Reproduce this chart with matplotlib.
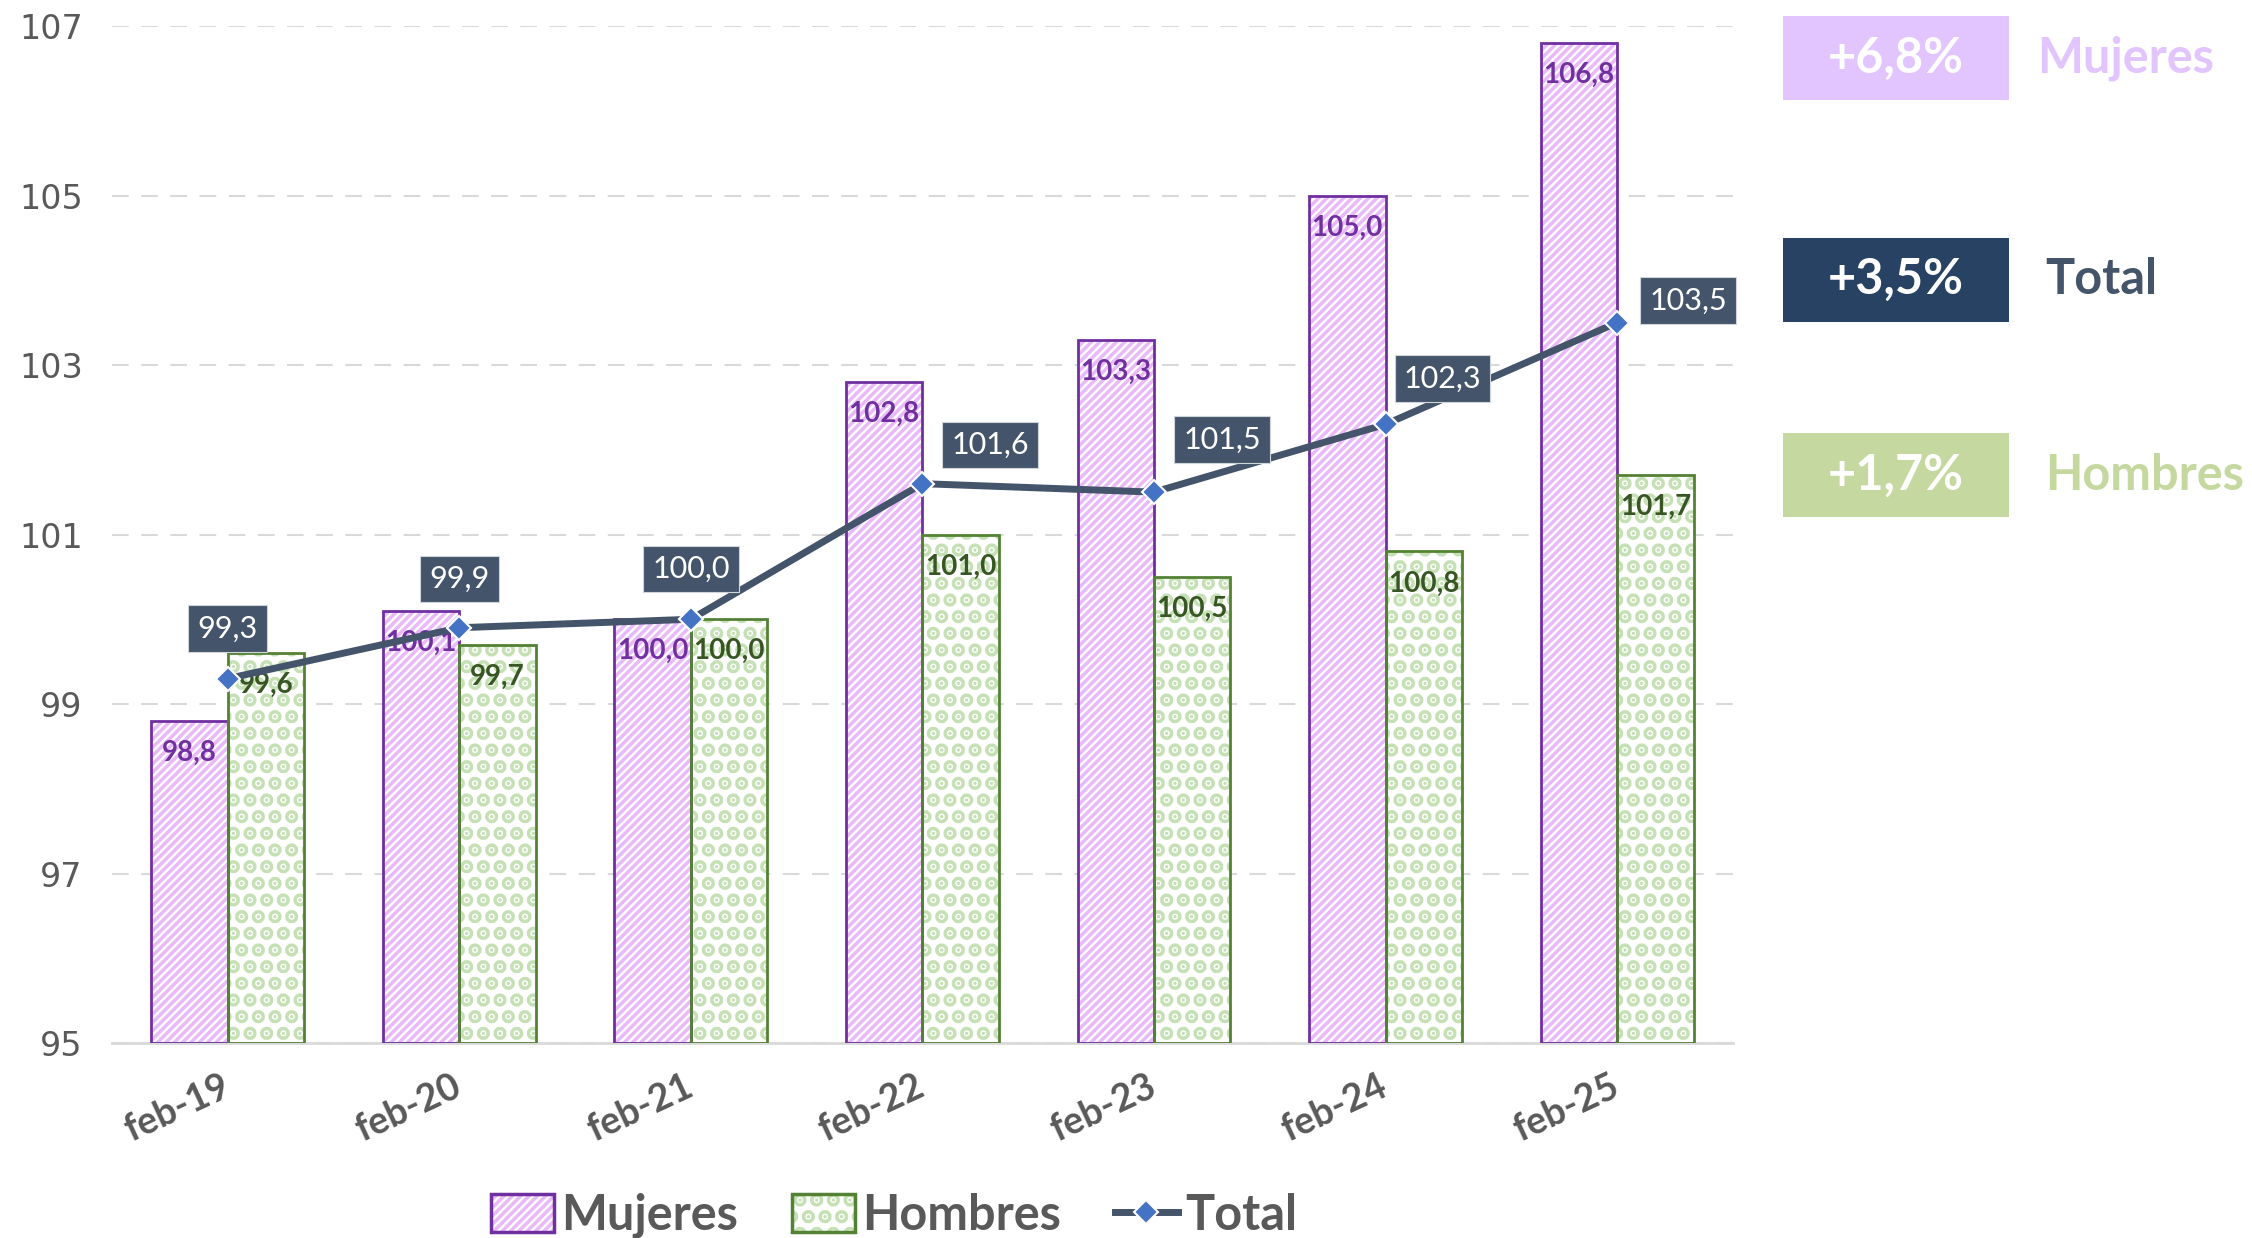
import numpy as np
import matplotlib
matplotlib.use('agg')
import matplotlib.pyplot as plt
from matplotlib.patches import Patch, Rectangle
from matplotlib.lines import Line2D
from matplotlib.legend_handler import HandlerTuple, HandlerPatch

# data
cats = ['feb-19', 'feb-20', 'feb-21', 'feb-22', 'feb-23', 'feb-24', 'feb-25']
mujeres = [98.8, 100.1, 100.0, 102.8, 103.3, 105.0, 106.8]
hombres = [99.6, 99.7, 100.0, 101.0, 100.5, 100.8, 101.7]
total = [99.3, 99.9, 100.0, 101.6, 101.5, 102.3, 103.5]
yticks = [95, 97, 99, 101, 103, 105, 107]

summary_vals = ['+6,8%', '+3,5%', '+1,7%']
summary_names = ['Mujeres', 'Total', 'Hombres']

# styles
PURPLE = '#7030A0'
LAVENDER = '#E9B9F9'
GREEN_EDGE = '#548235'
GREEN_FILL = '#C5E0B4'
GREEN_TXT = '#375623'
SLATE = '#44546A'
BLUE = '#4472C4'
GRAY = '#595959'
GRID = '#D9D9D9'
DOT_LW = 7
summary_box = ['#E2C4FF', '#284264', '#C4D89F']
summary_txt = ['#E2C4FF', SLATE, '#C4D89F']
name_x = [0.9045, 0.908, 0.908]
total_offsets = [(0, 36), (0, 35), (0, 36), (49, 28), (49, 38), (41, 33), (51, 16)]

plt.rcParams['font.family'] = ['Lato', 'DejaVu Sans']
plt.rcParams['hatch.linewidth'] = 2.5

def fmt(v):
    return f'{v:.1f}'.replace('.', ',')

def thick_hatch(patches, lw):
    for p in patches:
        if hasattr(p, 'set_hatch_linewidth'):
            p.set_hatch_linewidth(lw)

fig = plt.figure(figsize=(22.52, 12.38), dpi=100)
ax = fig.add_axes([0.0497, 0.1575, 0.7198, 0.8215])

x = np.arange(len(cats))
w = 0.33
base = 95

# Mujeres bars: hatch layer + outline
ax.bar(x - w/2, np.array(mujeres) - base, w, bottom=base, facecolor='white',
       edgecolor=LAVENDER, hatch='////', linewidth=0, zorder=2)
ax.bar(x - w/2, np.array(mujeres) - base, w, bottom=base, fill=False,
       edgecolor=PURPLE, linewidth=2, zorder=3)
# Hombres bars
hb = ax.bar(x + w/2, np.array(hombres) - base, w, bottom=base, facecolor='white',
            edgecolor=GREEN_FILL, hatch='.', linewidth=0, zorder=2)
thick_hatch(hb, DOT_LW)
ax.bar(x + w/2, np.array(hombres) - base, w, bottom=base, fill=False,
       edgecolor=GREEN_EDGE, linewidth=2, zorder=3)

for xi, v in zip(x, mujeres):
    ax.annotate(fmt(v), (xi - w/2, v), xytext=(0, -23), textcoords='offset points',
                ha='center', va='center', fontsize=20, fontweight='bold',
                color=PURPLE, zorder=5)
for xi, v in zip(x, hombres):
    ax.annotate(fmt(v), (xi + w/2, v), xytext=(0, -23), textcoords='offset points',
                ha='center', va='center', fontsize=20, fontweight='bold',
                color=GREEN_TXT, zorder=5)

# Total line
ax.plot(x, total, color=SLATE, linewidth=5, marker='D', markersize=12,
        markerfacecolor=BLUE, markeredgecolor='white', markeredgewidth=1.5, zorder=6)
for xi, v, off in zip(x, total, total_offsets):
    ax.annotate(fmt(v), (xi, v), xytext=off, textcoords='offset points',
                ha='center', va='center', fontsize=22, color='white', zorder=7,
                bbox=dict(boxstyle='square,pad=0.3', facecolor=SLATE,
                          edgecolor='#D0D5DC', linewidth=0.8))

ax.set_xlim(-0.5, len(cats) - 0.5)
ax.set_ylim(95, 107)
ax.set_yticks(yticks)
ax.set_yticklabels([str(t) for t in yticks], fontfamily='DejaVu Sans', fontsize=24, color=GRAY)
ax.set_xticks(x)
ax.set_xticklabels(cats, rotation=25, ha='right', va='center', rotation_mode='anchor',
                   fontsize=27, fontweight='bold', color=GRAY)
ax.tick_params(axis='both', length=0)
ax.tick_params(axis='y', pad=21)
ax.tick_params(axis='x', pad=30)
ax.grid(axis='y', color=GRID, linewidth=1.5, linestyle=(0, (8, 6)), zorder=0)
ax.set_axisbelow(True)
for s in ['top', 'right', 'left']:
    ax.spines[s].set_visible(False)
ax.spines['bottom'].set_color(GRID)
ax.spines['bottom'].set_linewidth(2)

# legend
def dotted_patch(legend, orig_handle, xdescent, ydescent, width, height, fontsize):
    p = Rectangle((-xdescent, -ydescent), width, height)
    thick_hatch([p], DOT_LW)
    return p

h_m = (Patch(facecolor='white', edgecolor=LAVENDER, hatch='////', linewidth=0),
       Patch(fill=False, edgecolor=PURPLE, linewidth=2.5))
h_h = (Patch(facecolor='white', edgecolor=GREEN_FILL, hatch='.', linewidth=0),
       Patch(fill=False, edgecolor=GREEN_EDGE, linewidth=2.5))
h_t = Line2D([], [], color=SLATE, linewidth=5, marker='D', markersize=12,
             markerfacecolor=BLUE, markeredgecolor='white', markeredgewidth=1.5)
fig.legend([h_m, h_h, h_t], ['Mujeres', 'Hombres', 'Total'],
           handler_map={tuple: HandlerTuple(ndivide=1),
                        h_h[0]: HandlerPatch(patch_func=dotted_patch)},
           loc='center', bbox_to_anchor=(0.397, 0.018), ncol=3, frameon=False,
           prop=dict(size=35, weight='bold'), labelcolor=GRAY,
           handlelength=1.3, handleheight=0.8, handletextpad=0.15, columnspacing=1.1)

# summary boxes on the right
bottoms = [0.919, 0.740, 0.582]
for val, name, bc, tc, b, nx in zip(summary_vals, summary_names, summary_box,
                                    summary_txt, bottoms, name_x):
    fig.patches.append(Rectangle((0.7917, b), 0.1004, 0.0679, transform=fig.transFigure,
                                 facecolor=bc, edgecolor='none'))
    fig.text(0.7917 + 0.0502, b + 0.034, val, ha='center', va='center',
             fontsize=35, fontweight='bold', color='white')
    fig.text(nx, b + 0.034, name, ha='left', va='center',
             fontsize=35, fontweight='bold', color=tc)

fig.savefig('out.png', dpi=100)
